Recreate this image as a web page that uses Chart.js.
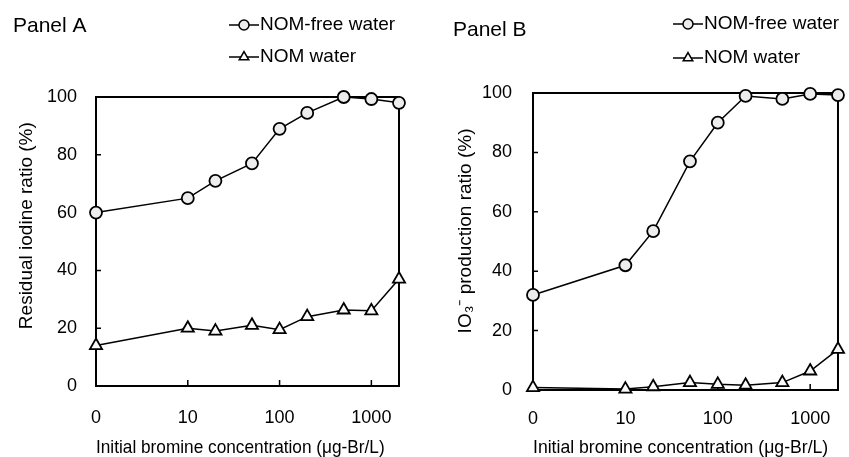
<!DOCTYPE html>
<html>
<head>
<meta charset="utf-8">
<script src="https://cdn.jsdelivr.net/npm/chart.js@4/dist/chart.umd.min.js"></script>
<style>
  html, body { margin: 0; padding: 0; background: #fff; }
  #wrap { position: relative; width: 849px; height: 457px; }
  canvas { position: absolute; top: 0; }
  #chartA { left: 0; }
  #chartB { left: 424px; }
</style>
</head>
<body>
<div id="wrap">
  <canvas id="chartA" width="424" height="457"></canvas>
  <canvas id="chartB" width="425" height="457"></canvas>
</div>
<script>
// initial bromine (ug-Br/L); the "0" sample sits at 1 on the log axis
const bromine = [0, 10, 20, 50, 100, 200, 500, 1000, 2000];
const xTickValues = [1, 10, 100, 1000];
const xTickLabels = ["0", "10", "100", "1000"];
const yTickValues = [0, 20, 40, 60, 80, 100];
const seriesNames = ["NOM-free water", "NOM water"];

// Panel A: residual iodine ratio (%)
const residualFree = [60, 65, 71, 77, 89, 94.5, 100, 99.3, 98];
const residualNom = [14, 20, 19, 21, 19.5, 24, 26.3, 26, 37];

// Panel B: IO3- production ratio (%)
const iodateFree = [32, 42, 53.5, 77, 90, 99, 98, 99.7, 99.3];
const iodateNom = [0.8, 0.3, 1.1, 2.5, 1.9, 1.6, 2.5, 6.4, 13.7];

const FONT = "'Liberation Sans', Arial, sans-serif";
Chart.defaults.color = "#000";
Chart.defaults.font.family = FONT;

function toPoints(values) {
  return bromine.map((b, i) => ({ x: b === 0 ? 1 : b, y: values[i] }));
}

const markerStyles = [
  { pointStyle: "circle", radius: 6, legendRadius: 5, fill: "#ededed" },
  { pointStyle: "triangle", radius: 7, legendRadius: 5.5, fill: "#fafafa" },
];

const panelDecor = {
  id: "panelDecor",
  beforeDatasetsDraw(chart) {
    const { ctx, chartArea: a, scales: { x, y } } = chart;
    ctx.save();
    ctx.strokeStyle = "#000";
    ctx.lineWidth = 2;
    ctx.strokeRect(a.left, a.top, a.right - a.left, a.bottom - a.top);
    ctx.lineWidth = 1.5;
    ctx.beginPath();
    yTickValues.forEach((v) => {
      const py = y.getPixelForValue(v);
      ctx.moveTo(a.left, py);
      ctx.lineTo(a.left + 5, py);
    });
    xTickValues.forEach((v) => {
      const px = x.getPixelForValue(v);
      ctx.moveTo(px, a.bottom);
      ctx.lineTo(px, a.bottom - 6);
    });
    ctx.stroke();
    ctx.restore();
  },
  afterDraw(chart, args, opts) {
    const ctx = chart.ctx;
    ctx.save();
    ctx.fillStyle = "#000";
    ctx.textBaseline = "middle";
    ctx.font = "21px " + FONT;
    ctx.fillText(opts.title, opts.titleX, opts.titleY);

    ctx.font = "19px " + FONT;
    chart.data.datasets.forEach((ds, i) => {
      const ly = opts.legendY[i];
      const x0 = opts.legendX;
      ctx.strokeStyle = "#000";
      ctx.lineWidth = 1.5;
      ctx.beginPath();
      ctx.moveTo(x0, ly);
      ctx.lineTo(x0 + 30, ly);
      ctx.stroke();
      ctx.fillStyle = markerStyles[i].fill;
      Chart.helpers.drawPoint(ctx, {
        pointStyle: markerStyles[i].pointStyle,
        radius: markerStyles[i].legendRadius,
        rotation: 0,
        borderWidth: 1.5,
      }, x0 + 15, ly);
      ctx.fillStyle = "#000";
      ctx.fillText(ds.label, x0 + 31, ly);
    });
    ctx.restore();
  },
};

function makePanel(id, free, nom, cfg) {
  const datasets = [free, nom].map((values, i) => ({
    label: seriesNames[i],
    data: toPoints(values),
    borderColor: "#000",
    borderWidth: 1.5,
    pointStyle: markerStyles[i].pointStyle,
    pointRadius: markerStyles[i].radius,
    pointBackgroundColor: markerStyles[i].fill,
    pointBorderColor: "#000",
    pointBorderWidth: 1.8,
    tension: 0,
    clip: false,
  }));

  return new Chart(document.getElementById(id), {
    type: "line",
    data: { datasets },
    options: {
      responsive: false,
      animation: false,
      events: [],
      layout: { padding: { left: 0, right: cfg.padRight, top: cfg.padTop, bottom: 0 } },
      plugins: {
        legend: { display: false },
        tooltip: { enabled: false },
        panelDecor: cfg.decor,
      },
      scales: {
        x: {
          type: "logarithmic",
          min: 1,
          max: 2000,
          grid: { display: false, drawTicks: false },
          border: { display: false },
          afterBuildTicks: (scale) => {
            scale.ticks = xTickValues.map((v) => ({ value: v }));
          },
          afterFit: (scale) => { scale.height = cfg.xAxisHeight; },
          ticks: {
            autoSkip: false,
            maxRotation: 0,
            padding: cfg.xTickPad,
            font: { size: 18 },
            callback: (v) => xTickLabels[xTickValues.indexOf(v)],
          },
          title: {
            display: true,
            // trailing spaces nudge the centred title left, as in the source figure
            text: "Initial bromine concentration (\u03bcg-Br/L)" + cfg.xTitleShift,
            font: { size: 19, lineHeight: 1 },
            padding: { top: 0, bottom: 0 },
          },
        },
        y: {
          min: 0,
          max: 100,
          grid: { display: false, drawTicks: false },
          border: { display: false },
          afterBuildTicks: (scale) => {
            scale.ticks = yTickValues.map((v) => ({ value: v }));
          },
          afterFit: (scale) => { scale.width = cfg.yAxisWidth; },
          ticks: { padding: cfg.yTickPad, font: { size: 18 } },
          title: {
            display: true,
            // leading spaces lift the rotated title a little above centre
            text: cfg.yTitleShift + cfg.yTitle,
            font: { size: 19 },
            padding: { top: cfg.yTitlePad, bottom: 0 },
          },
        },
      },
    },
    plugins: [panelDecor],
  });
}

makePanel("chartA", residualFree, residualNom, {
  padRight: 25, padTop: 97, xAxisHeight: 71, yAxisWidth: 96,
  xTickPad: 21, yTickPad: 19, xTitleShift: "   ",
  yTitle: "Residual iodine ratio (%)", yTitlePad: 15, yTitleShift: "      ",
  decor: { title: "Panel A", titleX: 13, titleY: 26, legendX: 229, legendY: [25, 57] },
});

makePanel("chartB", iodateFree, iodateNom, {
  padRight: 6, padTop: 93, xAxisHeight: 67, yAxisWidth: 109,
  xTickPad: 18, yTickPad: 21, xTitleShift: "  ",
  yTitle: "IO\u2083\u207b production ratio (%)", yTitlePad: 30, yTitleShift: "    ",
  decor: { title: "Panel B", titleX: 29, titleY: 30, legendX: 249, legendY: [24, 58] },
});
</script>
</body>
</html>
